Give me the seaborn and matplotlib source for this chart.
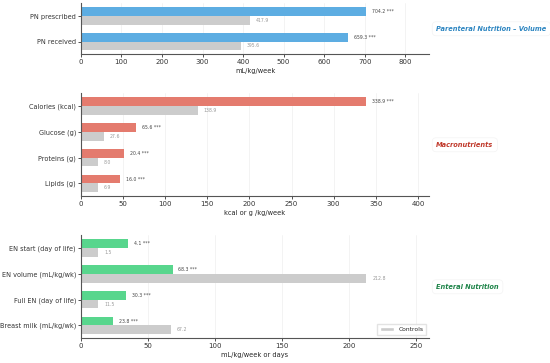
import numpy as np
import pandas as pd
import matplotlib
matplotlib.use("Agg")
import matplotlib.pyplot as plt
import seaborn as sb
from matplotlib.patches import Patch

# --- data ---
pn_cats = ["PN prescribed", "PN received"]
pn_treated = [704.2, 659.3]
pn_controls = [417.9, 395.6]
pn_treated_lbl = ["704.2 ***", "659.3 ***"]
pn_controls_lbl = ["417.9", "395.6"]

macro_cats = ["Calories (kcal)", "Glucose (g)", "Proteins (g)", "Lipids (g)"]
macro_treated = [338.9, 65.6, 51.5, 47.0]
macro_controls = [138.9, 27.4, 20.2, 20.2]
macro_treated_lbl = ["338.9 ***", "65.6 ***", "20.4 ***", "16.0 ***"]
macro_controls_lbl = ["138.9", "27.6", "8.0", "6.9"]

en_cats = ["EN start (day of life)", "EN volume (mL/kg/wk)",
           "Full EN (day of life)", "Breast milk (mL/kg/wk)"]
en_treated = [35.0, 68.5, 33.7, 23.8]
en_controls = [13.0, 212.8, 13.0, 67.2]
en_treated_lbl = ["4.1 ***", "68.3 ***", "30.3 ***", "23.8 ***"]
en_controls_lbl = ["1.5", "212.8", "11.5", "67.2"]

panels = [
    dict(cats=pn_cats, t=pn_treated, c=pn_controls, tl=pn_treated_lbl, cl=pn_controls_lbl,
         color="#5DADE2", tcolor="#2E86C1", title="Parenteral Nutrition \u2013 Volume",
         xlabel="mL/kg/week"),
    dict(cats=macro_cats, t=macro_treated, c=macro_controls, tl=macro_treated_lbl, cl=macro_controls_lbl,
         color="#E47B6E", tcolor="#C0392B", title="Macronutrients",
         xlabel="kcal or g /kg/week"),
    dict(cats=en_cats, t=en_treated, c=en_controls, tl=en_treated_lbl, cl=en_controls_lbl,
         color="#58D68D", tcolor="#1E8449", title="Enteral Nutrition",
         xlabel="mL/kg/week or days"),
]

sb.set_style("ticks")
plt.rcParams['font.family'] = ['DejaVu Sans']

fig = plt.figure(figsize=(5.5, 3.63), dpi=100)
gs = fig.add_gridspec(3, 1, height_ratios=[51, 103, 103], hspace=0.455,
                      left=0.147, right=0.7805, top=0.991, bottom=0.068)

gray = "#CCCCCC"
for k, p in enumerate(panels):
    ax = fig.add_subplot(gs[k])
    df = pd.DataFrame({
        "cat": p["cats"] * 2,
        "val": p["t"] + p["c"],
        "grp": ["Treated"] * len(p["cats"]) + ["Controls"] * len(p["cats"]),
    })
    sb.barplot(data=df, y="cat", x="val", hue="grp", order=p["cats"],
               hue_order=["Treated", "Controls"],
               palette={"Treated": p["color"], "Controls": gray},
               width=0.68, orient="h", legend=False, ax=ax, zorder=2,
               saturation=1, linewidth=0, edgecolor="none")
    vmax = max(p["t"] + p["c"])
    ax.set_xlim(0, vmax * 1.22)
    off = vmax * 0.02
    for i in range(len(p["cats"])):
        ax.text(p["t"][i] + off, i - 0.17, p["tl"][i], va="center", ha="left",
                fontsize=3.3, color="#444444")
        ax.text(p["c"][i] + off, i + 0.17, p["cl"][i], va="center", ha="left",
                fontsize=3.3, color="#999999")
    ax.set_ylabel("")
    ax.set_xlabel(p["xlabel"], fontsize=4.8, labelpad=2)
    ax.tick_params(axis="y", labelsize=4.7, length=2, width=0.6, pad=1.5,
                   colors="#333333")
    ax.tick_params(axis="x", labelsize=5.0, length=2, width=0.6, pad=1.5,
                   colors="#333333")
    ax.grid(axis="x", color="#EEEEEE", linewidth=0.5, zorder=0)
    ax.set_axisbelow(True)
    sb.despine(ax=ax)
    for s in ["left", "bottom"]:
        ax.spines[s].set_color("#555555")
        ax.spines[s].set_linewidth(0.8)
    ax.text(1.02, 0.5, p["title"], transform=ax.transAxes, ha="left", va="center",
            fontsize=4.8, fontweight="bold", fontstyle="italic", color=p["tcolor"],
            bbox=dict(boxstyle="round,pad=0.6", facecolor="white", edgecolor="#F3F3F3",
                      linewidth=0.5))
    if k == 2:
        ax.legend(handles=[Patch(facecolor=gray, label="Controls")], loc="lower right",
                  fontsize=4.3, frameon=True, handlelength=2.2, borderpad=0.5,
                  fancybox=False, edgecolor="#DDDDDD")

fig.savefig("out.png", dpi=100)
